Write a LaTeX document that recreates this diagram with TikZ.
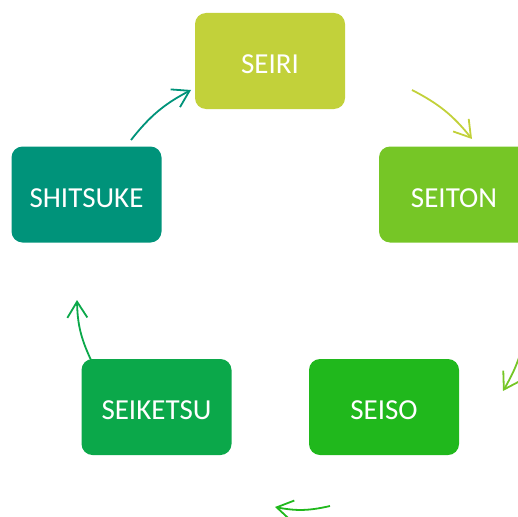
\documentclass[tikz,border=0pt]{standalone}
\usepackage{fontspec}
\setmainfont{Carlito}
\usetikzlibrary{
		positioning,
		arrows.meta
	}
\tikzset{
		>={Straight Barb[length=16pt,width=20pt]}
	}
\definecolor{seiriC}{RGB}{194,209,58}
\definecolor{seitonC}{RGB}{118,198,38}
\definecolor{seisoC}{RGB}{32,184,28}
\definecolor{seiketsuC}{RGB}{11,168,74}
\definecolor{shitsukeC}{RGB}{0,147,122}

\begin{document}
\begin{tikzpicture}[x=1pt, y=-1pt,
					stage/.style={rectangle, rounded corners=11pt, minimum width=150pt, minimum height=96pt, text=white, text height=25pt, text depth=0pt, font=\fontsize{29}{34}\selectfont},
					turn/.style={->, line width=1.8pt, bend left=12}]
		\useasboundingbox (0,0) rectangle (518,516);
		% the five boxes
		\node[stage, fill=seiriC] (seiri) at (270,61) {SEIRI};
		\node[stage, fill=seitonC] (seiton) at (454,194.5) {SEITON};
		\node[stage, fill=seisoC] (seiso) at (384,407) {SEISO};
		\node[stage, fill=seiketsuC] (seiketsu) at (156.5,407) {SEIKETSU};
		\node[stage, fill=shitsukeC] (shitsuke) at (86.5,194.5) {SHITSUKE};
		% arrow ends
		\coordinate (a1) at (412,90);
		\coordinate (b1) at (472,139);
		\coordinate (a2) at (527,318);
		\coordinate (b2) at (503,391);
		\coordinate (a3) at (330,506);
		\coordinate (b3) at (275,507);
		\coordinate (a4) at (91,360);
		\coordinate (b4) at (77,300);
		\coordinate (a5) at (131,140);
		\coordinate (b5) at (191,90);
		\draw[turn, seiriC] (a1) to (b1);
		\draw[turn, seitonC] (a2) to (b2);
		\draw[turn, seisoC] (a3) to (b3);
		\draw[turn, seiketsuC] (a4) to (b4);
		\draw[turn, shitsukeC] (a5) to (b5);
	\end{tikzpicture}
\end{document}
